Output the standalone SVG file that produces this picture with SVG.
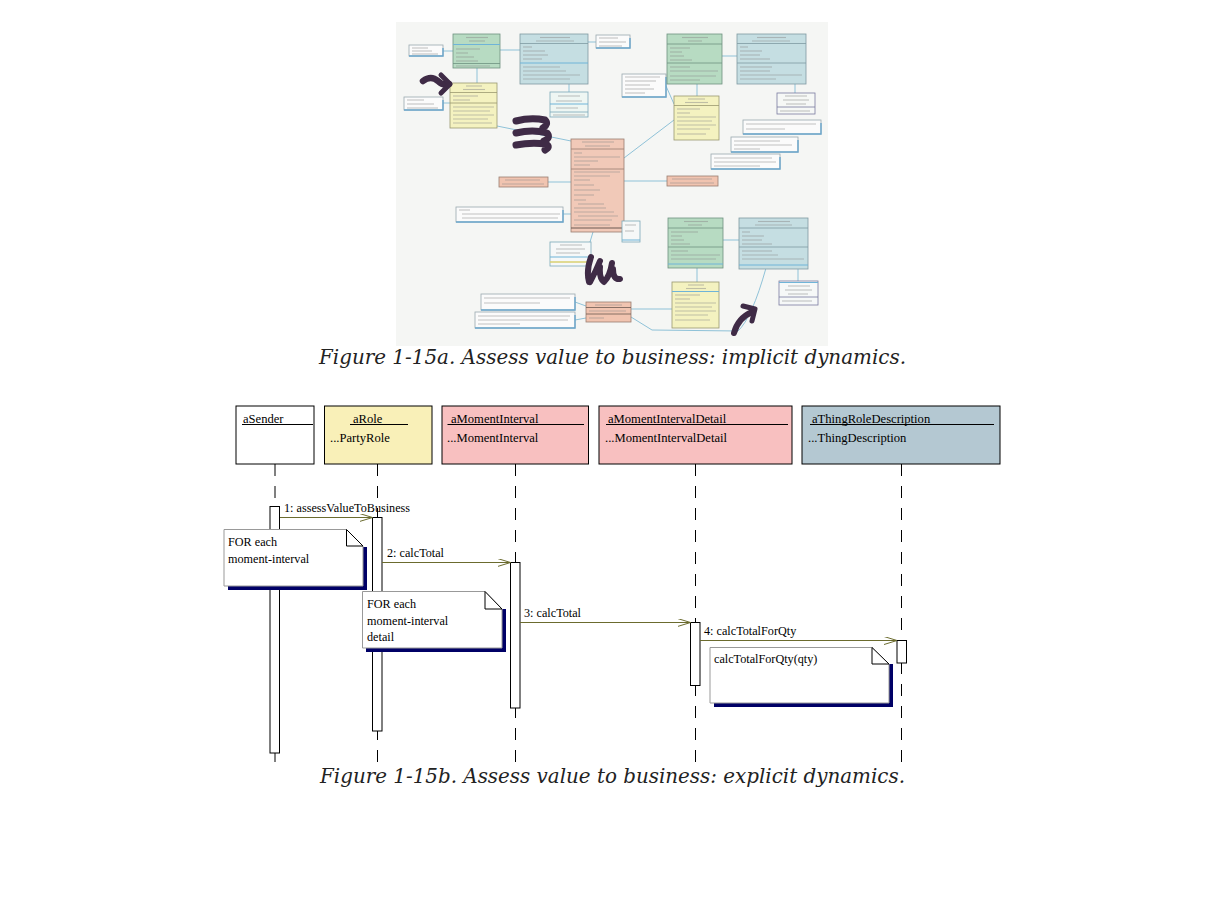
<svg xmlns="http://www.w3.org/2000/svg" width="1224" height="897" viewBox="0 0 1224 897">
<defs>
<style>
.t{font-family:"Liberation Serif","DejaVu Serif",serif;font-size:12.2px;fill:#000}
.h{font-family:"Liberation Serif","DejaVu Serif",serif;font-size:12.6px;fill:#000}
.cap{font-family:"DejaVu Serif","Liberation Serif",serif;font-style:italic;font-size:19.5px;fill:#222}
.obj{stroke:#000;stroke-width:1}
.ul{stroke:#000;stroke-width:1}
.life{stroke:#000;stroke-width:1;stroke-dasharray:12 10;fill:none}
.act{fill:#fff;stroke:#000;stroke-width:1}
.msg{stroke:#6b6b2e;stroke-width:1;fill:none}
.note{fill:#fff;stroke:#999;stroke-width:1}
.fold{fill:#fff;stroke:#000;stroke-width:1}
.shd{fill:#000066}
.r{stroke:#8c8c8c;stroke-width:1.1;opacity:.5}
.bl{stroke:#6fb4d8;stroke-width:1}
.cn{stroke:#8fc2d8;stroke-width:1;fill:none}
.bn{fill:#fbfbfb;stroke:#9aa8b0;stroke-width:0.8}
.bs{fill:none;stroke:#6aa6cc;stroke-width:1.4}
.br{stroke:#3f2b46;fill:none;stroke-linecap:round;stroke-linejoin:round}
</style>
<marker id="open" markerWidth="16" markerHeight="10" refX="13" refY="4" orient="auto" markerUnits="userSpaceOnUse">
<path d="M0,0 L13,4 L0,8" fill="none" stroke="#6b6b2e" stroke-width="1"/>
</marker>
</defs>
<rect width="1224" height="897" fill="#fff"/>

<!-- Figure 1-15a: raster-like class diagram -->
<g id="figure-a">
<rect x="396" y="22" width="432" height="324" fill="#f5f6f4"/>
<g id="fig-a-connectors">
<line class="cn" x1="500" y1="50" x2="520" y2="50"/>
<line class="cn" x1="477" y1="68" x2="477" y2="83"/>
<line class="cn" x1="569" y1="84" x2="569" y2="92"/>
<line class="cn" x1="443" y1="51" x2="453" y2="51"/>
<line class="cn" x1="443" y1="103" x2="450" y2="103"/>
<line class="cn" x1="497" y1="126" x2="571" y2="141"/>
<line class="cn" x1="624" y1="158" x2="674" y2="120"/>
<line class="cn" x1="548" y1="182" x2="571" y2="182"/>
<line class="cn" x1="624" y1="181" x2="667" y2="181"/>
<line class="cn" x1="588" y1="42" x2="596" y2="42"/>
<line class="cn" x1="722" y1="56" x2="737" y2="56"/>
<line class="cn" x1="697" y1="84" x2="697" y2="96"/>
<line class="cn" x1="795" y1="84" x2="795" y2="93"/>
<line class="cn" x1="666" y1="86" x2="674" y2="104"/>
<line class="cn" x1="624" y1="222" x2="624" y2="232"/>
<line class="cn" x1="563" y1="214" x2="571" y2="214"/>
<line class="cn" x1="593" y1="232" x2="590" y2="242"/>
<line class="cn" x1="723" y1="240" x2="739" y2="240"/>
<line class="cn" x1="697" y1="268" x2="697" y2="282"/>
<line class="cn" x1="798" y1="269" x2="798" y2="281"/>
<line class="cn" x1="631" y1="309" x2="672" y2="309"/>
<path class="cn" d="M631,317 L652,330 L738,331 Q752,318 766,268"/>
<line class="cn" x1="575" y1="302" x2="586" y2="306"/>
<line class="cn" x1="575" y1="320" x2="586" y2="318"/>
</g>

<g id="fa-g1">
<rect x="453" y="34" width="47" height="34" fill="#b7dbc2" stroke="#6e9280" stroke-width="0.8"/>
<line class="r" x1="466" y1="37.5" x2="488" y2="37.5"/><line class="r" x1="469" y1="41" x2="485" y2="41"/>
<line class="bl" x1="453" y1="44.5" x2="500" y2="44.5"/>
<line class="r" x1="456" y1="49" x2="480" y2="49"/><line class="r" x1="456" y1="53" x2="468" y2="53"/>
<line class="r" x1="456" y1="57" x2="474" y2="57"/><line class="r" x1="456" y1="61" x2="478" y2="61"/>
<line x1="453" y1="63.5" x2="500" y2="63.5" stroke="#6e9280" stroke-width="0.8"/>
<line class="r" x1="456" y1="66" x2="490" y2="66"/>
</g>
<g id="fa-b1">
<rect x="520" y="34" width="68" height="50" fill="#c5dee2" stroke="#7f9aa2" stroke-width="0.8"/>
<line class="r" x1="540" y1="37.5" x2="570" y2="37.5"/><line class="r" x1="536" y1="41" x2="574" y2="41"/>
<line x1="520" y1="43.5" x2="588" y2="43.5" stroke="#7f9aa2" stroke-width="0.8"/>
<line class="r" x1="523" y1="47" x2="532" y2="47"/><line class="r" x1="523" y1="51" x2="545" y2="51"/>
<line class="r" x1="523" y1="55" x2="548" y2="55"/><line class="r" x1="523" y1="59" x2="542" y2="59"/>
<line class="bl" x1="520" y1="63" x2="588" y2="63"/>
<line class="r" x1="523" y1="67" x2="560" y2="67"/><line class="r" x1="523" y1="71" x2="566" y2="71"/>
<line class="r" x1="523" y1="75" x2="580" y2="75"/><line class="r" x1="523" y1="79" x2="570" y2="79"/>
</g>
<g id="fa-y1">
<rect x="450" y="83" width="47" height="45" fill="#f4f2c0" stroke="#9a9870" stroke-width="0.8"/>
<line class="r" x1="466" y1="86" x2="482" y2="86"/><line class="r" x1="463" y1="89.5" x2="485" y2="89.5"/>
<line x1="450" y1="92.5" x2="497" y2="92.5" stroke="#9a9870" stroke-width="0.8"/>
<line class="r" x1="453" y1="96" x2="478" y2="96"/><line class="r" x1="453" y1="100" x2="470" y2="100"/>
<line x1="450" y1="103" x2="497" y2="103" stroke="#9a9870" stroke-width="0.8"/>
<line class="r" x1="453" y1="107" x2="494" y2="107"/><line class="r" x1="453" y1="111" x2="490" y2="111"/>
<line class="r" x1="453" y1="115" x2="494" y2="115"/><line class="r" x1="453" y1="119" x2="488" y2="119"/>
<line class="r" x1="453" y1="123" x2="492" y2="123"/>
</g>
<g id="fa-s1">
<rect x="550" y="92" width="38" height="25" fill="#eef6f3" stroke="#7aa8b8" stroke-width="0.8"/>
<line class="r" x1="558" y1="96" x2="580" y2="96"/><line class="r" x1="556" y1="101" x2="582" y2="101"/>
<line class="bl" x1="550" y1="104" x2="588" y2="104"/>
<line class="r" x1="556" y1="108" x2="578" y2="108"/>
<line x1="550" y1="112" x2="588" y2="112" stroke="#7aa8b8" stroke-width="0.8"/>
<line class="r" x1="553" y1="115" x2="585" y2="115"/>
</g>
<g id="fa-notes">
<rect class="bn" x="409" y="45" width="34" height="11"/><path class="bs" d="M409,56 H443 V48"/>
<line class="r" x1="412" y1="48" x2="428" y2="48"/><line class="r" x1="412" y1="51" x2="432" y2="51"/><line class="r" x1="412" y1="54" x2="438" y2="54"/>
<rect class="bn" x="404" y="97" width="39" height="13"/><path class="bs" d="M404,110 H443 V100"/>
<line class="r" x1="407" y1="100" x2="424" y2="100"/><line class="r" x1="407" y1="104" x2="434" y2="104"/><line class="r" x1="407" y1="108" x2="438" y2="108"/>
<rect class="bn" x="596" y="35" width="34" height="13"/><path class="bs" d="M596,48 H630 V38"/>
<line class="r" x1="599" y1="38" x2="618" y2="38"/><line class="r" x1="599" y1="42" x2="626" y2="42"/><line class="r" x1="599" y1="46" x2="622" y2="46"/>
<rect class="bn" x="622" y="74" width="44" height="23"/><path class="bs" d="M622,97 H666 V77"/>
<line class="r" x1="625" y1="77" x2="660" y2="77"/><line class="r" x1="625" y1="81" x2="656" y2="81"/><line class="r" x1="625" y1="85" x2="650" y2="85"/><line class="r" x1="625" y1="89" x2="654" y2="89"/><line class="r" x1="625" y1="93" x2="645" y2="93"/>
<rect class="bn" x="743" y="120" width="78" height="14"/><path class="bs" d="M743,134 H821 V123"/>
<line class="r" x1="746" y1="124" x2="816" y2="124"/><line class="r" x1="746" y1="129" x2="785" y2="129"/>
<rect class="bn" x="731" y="137" width="67" height="15"/><path class="bs" d="M731,152 H798 V140"/>
<line class="r" x1="734" y1="141" x2="780" y2="141"/><line class="r" x1="734" y1="145" x2="792" y2="145"/><line class="r" x1="734" y1="149" x2="760" y2="149"/>
<rect class="bn" x="711" y="154" width="69" height="15"/><path class="bs" d="M711,169 H780 V157"/>
<line class="r" x1="714" y1="158" x2="772" y2="158"/><line class="r" x1="714" y1="162" x2="776" y2="162"/><line class="r" x1="714" y1="166" x2="760" y2="166"/>
<rect class="bn" x="456" y="207" width="107" height="15"/><path class="bs" d="M456,222 H563 V210"/>
<line class="r" x1="459" y1="210" x2="470" y2="210"/><line class="r" x1="462" y1="214" x2="560" y2="214"/><line class="r" x1="462" y1="218" x2="558" y2="218"/>
<rect class="bn" x="481" y="294" width="94" height="16"/><path class="bs" d="M481,310 H575 V297"/>
<line class="r" x1="484" y1="298" x2="570" y2="298"/><line class="r" x1="484" y1="303" x2="540" y2="303"/>
<rect class="bn" x="475" y="312" width="100" height="16"/><path class="bs" d="M475,328 H575 V315"/>
<line class="r" x1="478" y1="316" x2="570" y2="316"/><line class="r" x1="478" y1="320" x2="568" y2="320"/><line class="r" x1="478" y1="324" x2="520" y2="324"/>
</g>
<g id="fa-p1">
<rect x="571" y="139" width="53" height="93" fill="#f1c9b8" stroke="#9a7e72" stroke-width="0.8"/>
<line class="r" x1="582" y1="142" x2="614" y2="142"/><line class="r" x1="585" y1="146" x2="610" y2="146"/>
<line x1="571" y1="149" x2="624" y2="149" stroke="#9a7e72" stroke-width="0.8"/>
<line class="r" x1="574" y1="153" x2="582" y2="153"/><line class="r" x1="574" y1="157" x2="620" y2="157"/>
<line class="r" x1="574" y1="161" x2="598" y2="161"/><line class="r" x1="574" y1="165" x2="590" y2="165"/>
<line x1="571" y1="169" x2="624" y2="169" stroke="#9a7e72" stroke-width="0.8"/>
<line class="r" x1="574" y1="172" x2="620" y2="172"/><line class="r" x1="574" y1="176" x2="610" y2="176"/>
<line class="r" x1="574" y1="180" x2="590" y2="180"/><line class="r" x1="574" y1="185" x2="594" y2="185"/>
<line class="r" x1="574" y1="190" x2="600" y2="190"/><line class="r" x1="574" y1="195" x2="594" y2="195"/>
<line class="r" x1="574" y1="200" x2="586" y2="200"/><line class="r" x1="578" y1="204" x2="604" y2="204"/>
<line class="r" x1="574" y1="208" x2="606" y2="208"/><line class="r" x1="574" y1="212" x2="614" y2="212"/>
<line class="r" x1="578" y1="216" x2="618" y2="216"/><line class="r" x1="574" y1="220" x2="612" y2="220"/>
<line class="r" x1="574" y1="225" x2="610" y2="225"/>
<line x1="571" y1="228" x2="624" y2="228" stroke="#6d5a52" stroke-width="1.2"/>
</g>
<g id="fa-pl">
<rect x="499" y="177" width="49" height="10" fill="#f1c4b0" stroke="#9a7e72" stroke-width="0.8"/>
<line class="r" x1="505" y1="180" x2="540" y2="180"/><line class="r" x1="502" y1="184" x2="544" y2="184"/>
</g>
<g id="fa-pr">
<rect x="667" y="176" width="51" height="10" fill="#f1c4b0" stroke="#9a7e72" stroke-width="0.8"/>
<line class="r" x1="672" y1="179" x2="712" y2="179"/><line class="r" x1="670" y1="183" x2="714" y2="183"/>
</g>
<g id="fa-pb">
<rect x="586" y="302" width="45" height="20" fill="#f1c4b0" stroke="#9a7e72" stroke-width="0.8"/>
<line class="r" x1="595" y1="305" x2="622" y2="305"/>
<line x1="586" y1="307.5" x2="631" y2="307.5" stroke="#6d5a52" stroke-width="0.8"/>
<line class="r" x1="589" y1="311" x2="626" y2="311"/>
<line x1="586" y1="314" x2="631" y2="314" stroke="#6d5a52" stroke-width="0.8"/>
<line class="r" x1="589" y1="318" x2="604" y2="318"/>
</g>
<g id="fa-g2">
<rect x="667" y="34" width="55" height="50" fill="#b7dbc2" stroke="#6e9280" stroke-width="0.8"/>
<line class="r" x1="682" y1="37.5" x2="708" y2="37.5"/><line class="r" x1="688" y1="41" x2="702" y2="41"/>
<line x1="667" y1="44" x2="722" y2="44" stroke="#6e9280" stroke-width="0.8"/>
<line class="r" x1="670" y1="48" x2="690" y2="48"/><line class="r" x1="670" y1="52" x2="682" y2="52"/>
<line class="r" x1="670" y1="56" x2="684" y2="56"/><line class="r" x1="670" y1="60" x2="692" y2="60"/>
<line x1="667" y1="63" x2="722" y2="63" stroke="#6e9280" stroke-width="0.8"/>
<line class="r" x1="670" y1="67" x2="690" y2="67"/><line class="r" x1="670" y1="71" x2="718" y2="71"/>
<line class="r" x1="670" y1="76" x2="716" y2="76"/><line class="r" x1="670" y1="80" x2="700" y2="80"/>
</g>
<g id="fa-b2">
<rect x="737" y="34" width="69" height="50" fill="#c5dee2" stroke="#7f9aa2" stroke-width="0.8"/>
<line class="r" x1="757" y1="37.5" x2="786" y2="37.5"/><line class="r" x1="752" y1="41" x2="790" y2="41"/>
<line x1="737" y1="43.5" x2="806" y2="43.5" stroke="#7f9aa2" stroke-width="0.8"/>
<line class="r" x1="740" y1="47" x2="748" y2="47"/><line class="r" x1="740" y1="51" x2="762" y2="51"/>
<line class="r" x1="740" y1="55" x2="760" y2="55"/><line class="r" x1="740" y1="59" x2="770" y2="59"/>
<line x1="737" y1="63" x2="806" y2="63" stroke="#7f9aa2" stroke-width="0.8"/>
<line class="r" x1="740" y1="67" x2="772" y2="67"/><line class="r" x1="740" y1="71" x2="770" y2="71"/>
<line class="r" x1="740" y1="75" x2="802" y2="75"/><line class="r" x1="740" y1="79" x2="776" y2="79"/>
</g>
<g id="fa-y2">
<rect x="674" y="96" width="45" height="44" fill="#f4f2c0" stroke="#9a9870" stroke-width="0.8"/>
<line class="r" x1="688" y1="99" x2="705" y2="99"/><line class="r" x1="685" y1="102.5" x2="708" y2="102.5"/>
<line x1="674" y1="105.5" x2="719" y2="105.5" stroke="#9a9870" stroke-width="0.8"/>
<line class="r" x1="677" y1="109" x2="700" y2="109"/><line class="r" x1="677" y1="113" x2="690" y2="113"/>
<line class="r" x1="677" y1="117" x2="716" y2="117"/><line class="r" x1="677" y1="121" x2="712" y2="121"/>
<line class="r" x1="677" y1="125" x2="716" y2="125"/><line class="r" x1="677" y1="129" x2="710" y2="129"/>
<line class="r" x1="677" y1="134" x2="706" y2="134"/>
</g>
<g id="fa-s2">
<rect x="777" y="93" width="38" height="21" fill="#f6f8f6" stroke="#7a7aa0" stroke-width="0.8"/>
<line class="r" x1="785" y1="96" x2="807" y2="96"/><line class="r" x1="783" y1="100" x2="809" y2="100"/>
<line class="r" x1="786" y1="104" x2="806" y2="104"/>
<line x1="777" y1="107" x2="815" y2="107" stroke="#7a7aa0" stroke-width="0.8"/>
<line class="r" x1="780" y1="111" x2="810" y2="111"/>
</g>
<g id="fa-s3">
<rect x="622" y="221" width="18" height="21" fill="#f6f8f8" stroke="#7aa8b8" stroke-width="0.8"/>
<line class="r" x1="625" y1="225" x2="636" y2="225"/><line class="r" x1="625" y1="231" x2="634" y2="231"/>
<line class="bl" x1="622" y1="240" x2="640" y2="240"/>
</g>
<g id="fa-s4">
<rect x="550" y="242" width="41" height="24" fill="#f6f8f8" stroke="#7aa8b8" stroke-width="0.8"/>
<line class="r" x1="560" y1="245" x2="582" y2="245"/><line class="r" x1="556" y1="249" x2="585" y2="249"/>
<line class="r" x1="556" y1="253" x2="580" y2="253"/>
<line class="bl" x1="550" y1="257" x2="591" y2="257"/>
<line x1="550" y1="262" x2="591" y2="262" stroke="#d8d070" stroke-width="1.5"/>
</g>
<g id="fa-g3">
<rect x="668" y="218" width="55" height="50" fill="#b7dbc2" stroke="#6e9280" stroke-width="0.8"/>
<line class="r" x1="684" y1="221.5" x2="708" y2="221.5"/><line class="r" x1="688" y1="225" x2="702" y2="225"/>
<line x1="668" y1="228" x2="723" y2="228" stroke="#6e9280" stroke-width="0.8"/>
<line class="r" x1="671" y1="232" x2="698" y2="232"/><line class="r" x1="671" y1="236" x2="682" y2="236"/>
<line class="r" x1="671" y1="240" x2="684" y2="240"/><line class="r" x1="671" y1="244" x2="690" y2="244"/>
<line x1="668" y1="247" x2="723" y2="247" stroke="#6e9280" stroke-width="0.8"/>
<line class="r" x1="671" y1="251" x2="688" y2="251"/><line class="r" x1="671" y1="255" x2="720" y2="255"/>
<line class="r" x1="671" y1="259" x2="716" y2="259"/>
<line class="bl" x1="668" y1="264" x2="723" y2="264"/>
</g>
<g id="fa-b3">
<rect x="739" y="218" width="69" height="51" fill="#c5dee2" stroke="#7f9aa2" stroke-width="0.8"/>
<line class="r" x1="758" y1="221.5" x2="790" y2="221.5"/><line class="r" x1="755" y1="225" x2="792" y2="225"/>
<line x1="739" y1="228" x2="808" y2="228" stroke="#7f9aa2" stroke-width="0.8"/>
<line class="r" x1="742" y1="232" x2="750" y2="232"/><line class="r" x1="742" y1="236" x2="764" y2="236"/>
<line class="r" x1="742" y1="240" x2="762" y2="240"/><line class="r" x1="742" y1="244" x2="772" y2="244"/>
<line x1="739" y1="247" x2="808" y2="247" stroke="#7f9aa2" stroke-width="0.8"/>
<line class="r" x1="742" y1="251" x2="772" y2="251"/><line class="r" x1="742" y1="255" x2="778" y2="255"/>
<line class="r" x1="742" y1="259" x2="804" y2="259"/>
<line class="bl" x1="739" y1="265" x2="808" y2="265"/>
</g>
<g id="fa-y3">
<rect x="672" y="282" width="47" height="46" fill="#f4f2c0" stroke="#9a9870" stroke-width="0.8"/>
<line class="r" x1="688" y1="285" x2="704" y2="285"/><line class="r" x1="686" y1="288.5" x2="706" y2="288.5"/>
<line class="bl" x1="672" y1="291.5" x2="719" y2="291.5"/>
<line class="r" x1="675" y1="295" x2="700" y2="295"/><line class="r" x1="675" y1="299" x2="690" y2="299"/>
<line class="r" x1="675" y1="303" x2="716" y2="303"/><line class="r" x1="675" y1="307" x2="712" y2="307"/>
<line class="r" x1="675" y1="311" x2="716" y2="311"/><line class="r" x1="675" y1="315" x2="708" y2="315"/>
<line class="r" x1="675" y1="320" x2="710" y2="320"/>
</g>
<g id="fa-s5">
<rect x="779" y="281" width="39" height="24" fill="#f6f8f8" stroke="#7a7aa0" stroke-width="0.8"/>
<line class="bl" x1="779" y1="282.5" x2="818" y2="282.5"/>
<line class="r" x1="788" y1="286" x2="810" y2="286"/><line class="r" x1="785" y1="290" x2="812" y2="290"/>
<line class="r" x1="788" y1="294" x2="808" y2="294"/>
<line x1="779" y1="297" x2="818" y2="297" stroke="#7a7aa0" stroke-width="0.8"/>
<line class="r" x1="782" y1="301" x2="812" y2="301"/>
</g>
<g id="fa-brush">
<path class="br" stroke-width="6.5" d="M423,81 Q431,75 438,81 Q443,86 449,84"/>
<path class="br" stroke-width="5" d="M441,75 L450,84 L441,93"/>
<path class="br" stroke-width="7" d="M516,121 Q531,117 545,120 Q549,124 543,128"/>
<path class="br" stroke-width="7" d="M516,133 Q533,129 547,133 Q551,138 544,141"/>
<path class="br" stroke-width="7" d="M516,145 Q531,142 546,144 Q551,147 545,150"/>
<path class="br" stroke-width="6" d="M591,257 Q586,271 589,282 M590,282 Q596,271 600,261 M600,267 Q599,278 604,282 Q610,276 612,263 M613,269 Q613,280 620,279"/>
<path class="br" stroke-width="6" d="M734,333 Q738,318 752,312"/>
<path class="br" stroke-width="5" d="M743,306 L755,309 L752,321"/>
</g>
</g>
<text class="cap" x="319" y="364" textLength="587" lengthAdjust="spacingAndGlyphs">Figure 1-15a. Assess value to business: implicit dynamics.</text>

<!-- Figure 1-15b: sequence diagram -->
<g id="aSender">
<rect class="obj" x="236" y="406" width="78" height="58" fill="#fff"/>
<text class="h" x="243" y="423">aSender</text>
<line class="ul" x1="242" y1="424.5" x2="313" y2="424.5"/>
<line class="life" x1="275" y1="464" x2="275" y2="766"/>
<rect class="act" x="270" y="506.5" width="9.5" height="246.5"/>
</g>
<g id="aRole">
<rect class="obj" x="324.5" y="406" width="107.5" height="58" fill="#f9f0b8"/>
<text class="h" x="353" y="423">aRole</text>
<line class="ul" x1="350" y1="424.5" x2="408" y2="424.5"/>
<text class="h" x="330" y="442">...PartyRole</text>
<line class="life" x1="377.5" y1="464" x2="377.5" y2="766"/>
<rect class="act" x="372.5" y="517.5" width="9.5" height="213.5"/>
</g>
<g id="aMomentInterval">
<rect class="obj" x="442" y="406" width="146.5" height="58" fill="#f8c0c0"/>
<text class="h" x="451" y="423">aMomentInterval</text>
<line class="ul" x1="447.5" y1="424.5" x2="584" y2="424.5"/>
<text class="h" x="447" y="442">...MomentInterval</text>
<line class="life" x1="515.5" y1="464" x2="515.5" y2="766"/>
<rect class="act" x="510.5" y="562.5" width="9.5" height="145.5"/>
</g>
<g id="aMomentIntervalDetail">
<rect class="obj" x="599" y="406" width="193" height="58" fill="#f8c0c0"/>
<text class="h" x="608" y="423">aMomentIntervalDetail</text>
<line class="ul" x1="606" y1="424.5" x2="788" y2="424.5"/>
<text class="h" x="605" y="442">...MomentIntervalDetail</text>
<line class="life" x1="695.5" y1="464" x2="695.5" y2="766"/>
<rect class="act" x="690.5" y="622.5" width="9.5" height="63"/>
</g>
<g id="aThingRoleDescription">
<rect class="obj" x="802" y="406" width="198" height="58" fill="#b4c8d2"/>
<text class="h" x="812" y="423">aThingRoleDescription</text>
<line class="ul" x1="810" y1="424.5" x2="994" y2="424.5"/>
<text class="h" x="808" y="442">...ThingDescription</text>
<line class="life" x1="901.5" y1="464" x2="901.5" y2="766"/>
<rect class="act" x="897" y="640.5" width="9.5" height="22.5"/>
</g>

<g id="connectors">
<line class="msg" x1="280" y1="517.5" x2="372.5" y2="517.5" marker-end="url(#open)"/>
<text class="t" x="284" y="512">1: assessValueToBusiness</text>
<line class="msg" x1="382" y1="562.5" x2="510.5" y2="562.5" marker-end="url(#open)"/>
<text class="t" x="387" y="557">2: calcTotal</text>
<line class="msg" x1="520" y1="622.5" x2="690.5" y2="622.5" marker-end="url(#open)"/>
<text class="t" x="524" y="617">3: calcTotal</text>
<line class="msg" x1="700" y1="640.5" x2="897" y2="640.5" marker-end="url(#open)"/>
<text class="t" x="704" y="635">4: calcTotalForQty</text>
</g>

<g id="note1">
<path class="shd" d="M363,547 H367 V590 H228 V586 H363 Z"/>
<path class="note" d="M224,529.5 H346.5 L363,546 V586 H224 Z"/>
<path class="fold" d="M346.5,529.5 V546 H363 Z"/>
<text class="t" x="228" y="546">FOR each</text>
<text class="t" x="228" y="563">moment-interval</text>
</g>
<g id="note2">
<path class="shd" d="M502,609 H506 V652 H366 V648 H502 Z"/>
<path class="note" d="M362.5,591.5 H485 L502,609 V648 H362.5 Z"/>
<path class="fold" d="M485,591.5 V609 H502 Z"/>
<text class="t" x="367" y="608">FOR each</text>
<text class="t" x="367" y="625">moment-interval</text>
<text class="t" x="367" y="641">detail</text>
</g>
<g id="note3">
<path class="shd" d="M889,664 H893 V707 H714 V703 H889 Z"/>
<path class="note" d="M710,647.5 H872 L889,664 V703 H710 Z"/>
<path class="fold" d="M872,647.5 V664 H889 Z"/>
<text class="t" x="714" y="663">calcTotalForQty(qty)</text>
</g>

<text class="cap" x="320" y="783" textLength="585" lengthAdjust="spacingAndGlyphs">Figure 1-15b. Assess value to business: explicit dynamics.</text>
</svg>
